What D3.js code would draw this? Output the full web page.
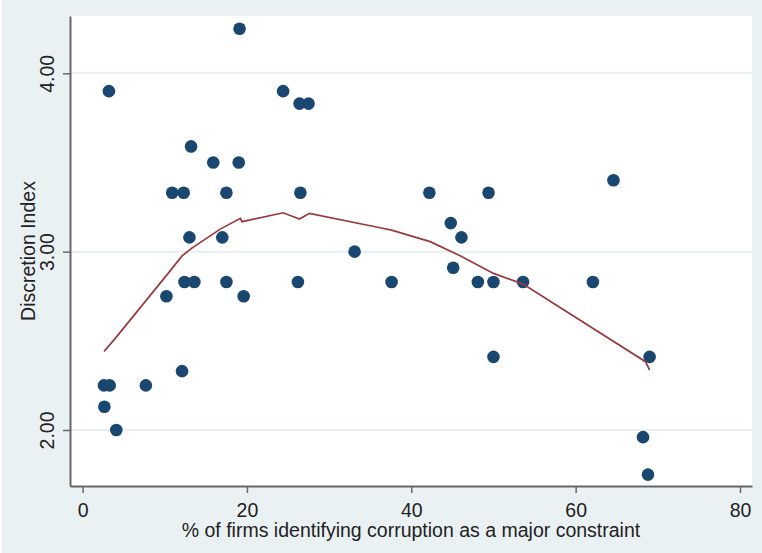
<!DOCTYPE html>
<html>
<head>
<meta charset="utf-8">
<script src="https://cdn.jsdelivr.net/npm/d3@7"></script>
<style>
  html, body { margin: 0; padding: 0; background: #eaf1f3; }
  text { font-family: "Liberation Sans", Arial, sans-serif; fill: #222; }
</style>
</head>
<body>
<div id="chart"></div>
<script>
// scatter: % firms citing corruption vs discretion index
var corruption = [3.2, 19.1, 24.4, 26.4, 27.5, 13.2, 15.9, 19.0, 10.9, 12.3, 17.5, 26.5,
                  13.0, 17.0, 33.1, 12.4, 13.6, 17.5, 26.2, 10.2, 19.6, 12.1, 2.6, 3.3,
                  7.7, 2.65, 4.1, 42.2, 49.4, 44.8, 46.1, 45.1, 37.6, 48.1, 50.0, 53.6,
                  62.1, 64.6, 50.0, 69.0, 68.2, 68.8];
var discretion = [3.90, 4.25, 3.90, 3.83, 3.83, 3.59, 3.50, 3.50, 3.33, 3.33, 3.33, 3.33,
                  3.08, 3.08, 3.00, 2.83, 2.83, 2.83, 2.83, 2.75, 2.75, 2.33, 2.25, 2.25,
                  2.25, 2.13, 2.00, 3.33, 3.33, 3.16, 3.08, 2.91, 2.83, 2.83, 2.83, 2.83,
                  2.83, 3.40, 2.41, 2.41, 1.96, 1.75];

// lowess fit
var lowessX = [2.6, 4.0, 10.7, 12.1, 13.3, 16.7, 19.2, 19.4, 24.4, 26.4, 27.6,
               36.2, 37.6, 42.3, 46.0, 50.0, 53.6, 68.5, 69.0];
var lowessY = [2.44, 2.515, 2.895, 2.976, 3.02, 3.125, 3.187, 3.168, 3.218, 3.183, 3.215,
               3.134, 3.121, 3.056, 2.976, 2.878, 2.818, 2.383, 2.336];

var xTicks = [0, 20, 40, 60, 80];
var yTicks = [2, 3, 4];
var yTickLabels = ["2.00", "3.00", "4.00"];
var xTitle = "% of firms identifying corruption as a major constraint";
var yTitle = "Discretion Index";

var svgWidth = 762, svgHeight = 553;
var plot = { left: 70, right: 752, top: 16, bottom: 486 };

var svg = d3.select("#chart").append("svg")
    .attr("width", svgWidth)
    .attr("height", svgHeight);

svg.append("rect").attr("width", svgWidth).attr("height", svgHeight).attr("fill", "#eaf1f3");
svg.append("rect").attr("width", 2).attr("height", svgHeight).attr("fill", "#ffffff");

// scales anchored on the tick positions, then stretched to the plot box
var xBase = d3.scaleLinear().domain([0, 80]).range([82.6, 740]);
var yBase = d3.scaleLinear().domain([2, 4]).range([430, 73.3]);
var x = d3.scaleLinear().domain([xBase.invert(plot.left), xBase.invert(plot.right)]).range([plot.left, plot.right]);
var y = d3.scaleLinear().domain([yBase.invert(plot.bottom), yBase.invert(plot.top)]).range([plot.bottom, plot.top]);

svg.append("rect")
    .attr("x", plot.left).attr("y", plot.top)
    .attr("width", plot.right - plot.left).attr("height", plot.bottom - plot.top)
    .attr("fill", "#ffffff");

// gridlines
svg.append("g").selectAll("line").data(yTicks).join("line")
    .attr("x1", plot.left).attr("x2", plot.right)
    .attr("y1", d => y(d)).attr("y2", d => y(d))
    .attr("stroke", "#e6eff1").attr("stroke-width", 2);

// x axis
var xAxis = svg.append("g")
    .attr("transform", `translate(0,${plot.bottom})`)
    .call(d3.axisBottom(x).tickValues(xTicks).tickSize(7).tickSizeOuter(0).tickPadding(10));
xAxis.select(".domain").attr("stroke", "#666").attr("stroke-width", 2);
xAxis.selectAll(".tick line").attr("stroke", "#666").attr("stroke-width", 1.5);
xAxis.selectAll(".tick text")
    .attr("font-size", 19.5).attr("font-family", "Liberation Sans, Arial, sans-serif")
    .attr("fill", "#222").attr("y", 31).attr("dy", 0);

// y axis
var yAxis = svg.append("g")
    .attr("transform", `translate(${plot.left},0)`)
    .call(d3.axisLeft(y).tickValues(yTicks).tickFormat((d, i) => yTickLabels[i]).tickSize(7).tickSizeOuter(0));
yAxis.select(".domain").attr("stroke", "#666").attr("stroke-width", 2);
yAxis.selectAll(".tick line").attr("stroke", "#666").attr("stroke-width", 1.5);
yAxis.selectAll(".tick text")
    .attr("font-size", 19.5).attr("font-family", "Liberation Sans, Arial, sans-serif")
    .attr("fill", "#222")
    .attr("x", 0).attr("y", 0).attr("dy", 0)
    .attr("text-anchor", "middle")
    .attr("transform", "translate(-16,0) rotate(-90)");

// axis titles
svg.append("text")
    .attr("x", (plot.left + plot.right) / 2).attr("y", 537)
    .attr("text-anchor", "middle").attr("font-size", 19.5)
    .text(xTitle);

svg.append("text")
    .attr("transform", `translate(35,${(plot.top + plot.bottom) / 2}) rotate(-90)`)
    .attr("text-anchor", "middle").attr("font-size", 19.5)
    .text(yTitle);

// points
svg.append("g").selectAll("circle").data(corruption).join("circle")
    .attr("cx", d => x(d))
    .attr("cy", (d, i) => y(discretion[i]))
    .attr("r", 6.3)
    .attr("fill", "#1a476f");

// lowess line
var line = d3.line()
    .x(d => x(d[0]))
    .y(d => y(d[1]));

svg.append("path")
    .datum(lowessX.map((d, i) => [d, lowessY[i]]))
    .attr("d", line)
    .attr("fill", "none")
    .attr("stroke", "#98393f")
    .attr("stroke-width", 1.7);
</script>
</body>
</html>
